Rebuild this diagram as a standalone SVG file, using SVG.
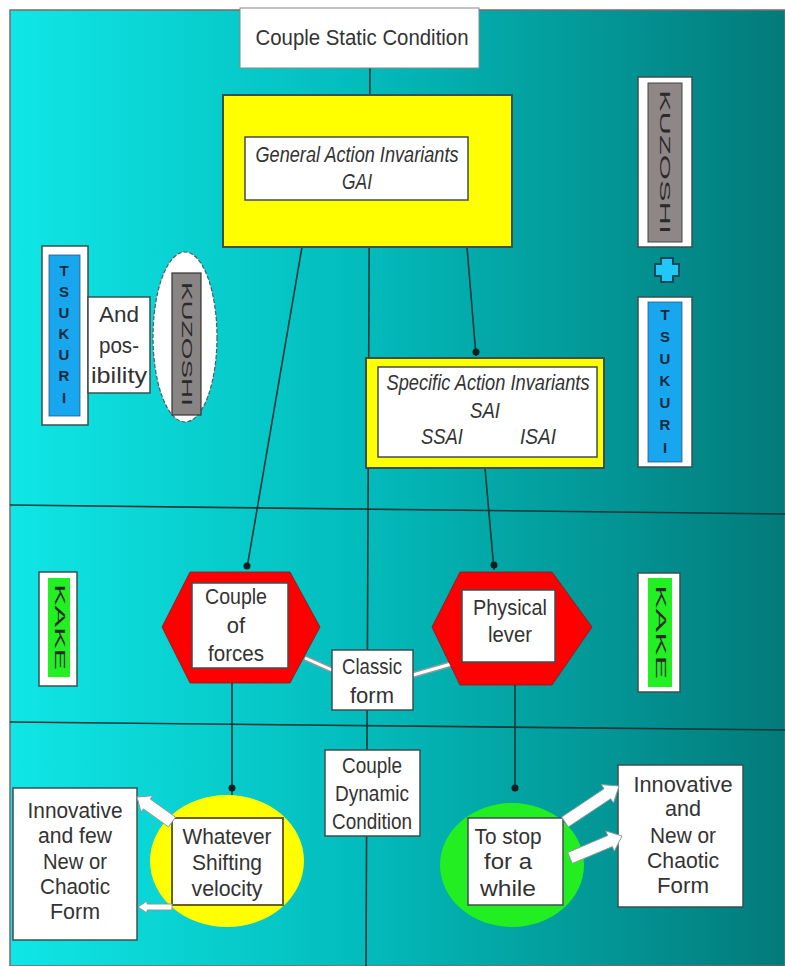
<svg xmlns="http://www.w3.org/2000/svg" width="785" height="966" viewBox="0 0 785 966">
<defs>
<linearGradient id="bg" x1="0" y1="0" x2="1" y2="0">
<stop offset="0" stop-color="#10e6e6"/>
<stop offset="0.45" stop-color="#03bcbc"/>
<stop offset="1" stop-color="#037a7a"/>
</linearGradient>
<style>
.t{font-family:"Liberation Sans",Arial,sans-serif;font-size:22px;fill:#333;text-anchor:middle}
.i{font-style:italic}
.box{fill:#fff;stroke:#3c4f4f;stroke-width:1.5}
.ln{stroke:#173838;stroke-width:1.6;fill:none}
.dot{fill:#0d1f1f}
.let{font-family:"Liberation Sans",Arial,sans-serif;font-size:15px;font-weight:bold;fill:#1a2a3a;text-anchor:middle}
.rot{font-family:"Liberation Sans",Arial,sans-serif;font-size:15px;fill:#2a2a2a}
.blk{fill:#fff;stroke:#8a9a9a;stroke-width:1}
</style>
</defs>
<rect x="0" y="0" width="785" height="966" fill="#fff"/>
<rect x="10" y="10" width="775" height="956" fill="url(#bg)" stroke="#7a6a6a" stroke-width="1.5"/>

<g id="connectors">
<line class="ln" x1="370" y1="68" x2="366" y2="966"/>
<line class="ln" x1="10" y1="505" x2="785" y2="514"/>
<line class="ln" x1="10" y1="722" x2="785" y2="730"/>
<line class="ln" x1="302" y1="247" x2="247" y2="568"/>
<circle class="dot" cx="247" cy="566" r="3.5"/>
<line class="ln" x1="467" y1="247" x2="476" y2="356"/>
<circle class="dot" cx="476" cy="352" r="3.5"/>
<line class="ln" x1="485" y1="468" x2="494" y2="570"/>
<circle class="dot" cx="494" cy="565" r="3.5"/>
<line class="ln" x1="232" y1="683" x2="232" y2="795"/>
<circle class="dot" cx="232" cy="788" r="3.5"/>
<line class="ln" x1="515" y1="685" x2="515" y2="790"/>
<circle class="dot" cx="515" cy="788" r="3.5"/>
<line x1="305" y1="658" x2="332" y2="670" stroke="#8a9a9a" stroke-width="6"/>
<line x1="305" y1="658" x2="332" y2="670" stroke="#fff" stroke-width="3"/>
<line x1="413" y1="675" x2="458" y2="662" stroke="#8a9a9a" stroke-width="6"/>
<line x1="413" y1="675" x2="458" y2="662" stroke="#fff" stroke-width="3"/>
</g>

<g id="title">
<rect x="240" y="8" width="239" height="60" fill="#fff" stroke="#888" stroke-width="1"/>
<text class="t" x="362" y="45" font-size="24" textLength="213" lengthAdjust="spacingAndGlyphs">Couple Static Condition</text>
</g>

<g id="gai">
<rect x="223" y="95" width="289" height="152" fill="#ffff00" stroke="#3c4f4f" stroke-width="2"/>
<rect class="box" x="245" y="137" width="223" height="63"/>
<text class="t i" x="357" y="162" textLength="203" lengthAdjust="spacingAndGlyphs">General Action Invariants</text>
<text class="t i" x="357" y="189" textLength="30" lengthAdjust="spacingAndGlyphs">GAI</text>
</g>

<g id="sai">
<rect x="366" y="358" width="238" height="110" fill="#ffff00" stroke="#3c4f4f" stroke-width="2"/>
<rect class="box" x="378" y="367" width="219" height="90"/>
<text class="t i" x="488" y="390" textLength="203" lengthAdjust="spacingAndGlyphs">Specific Action Invariants</text>
<text class="t i" x="485" y="418" textLength="30" lengthAdjust="spacingAndGlyphs">SAI</text>
<text class="t i" x="442" y="444" textLength="42" lengthAdjust="spacingAndGlyphs">SSAI</text>
<text class="t i" x="538" y="444" textLength="36" lengthAdjust="spacingAndGlyphs">ISAI</text>
</g>

<g id="tsukuri-left">
<rect class="box" x="42" y="246" width="46" height="179"/>
<rect x="49" y="255" width="31" height="161" fill="#18a6ef" stroke="#2a5a7a" stroke-width="0.8"/>
<text class="let" x="64" y="276">T</text>
<text class="let" x="64" y="297">S</text>
<text class="let" x="64" y="318">U</text>
<text class="let" x="64" y="339">K</text>
<text class="let" x="64" y="360">U</text>
<text class="let" x="64" y="381">R</text>
<text class="let" x="64" y="403">I</text>
</g>

<g id="and-possibility">
<rect class="box" x="88" y="297" width="62" height="96"/>
<text class="t" x="119" y="322" textLength="40" lengthAdjust="spacingAndGlyphs">And</text>
<text class="t" x="119" y="353" textLength="40" lengthAdjust="spacingAndGlyphs">pos-</text>
<text class="t" x="119" y="383" textLength="56" lengthAdjust="spacingAndGlyphs">ibility</text>
</g>

<g id="kuzoshi-left">
<ellipse cx="185" cy="337" rx="32" ry="85" fill="#fff" stroke="#556" stroke-width="1.2" stroke-dasharray="4 2"/>
<rect x="172" y="273" width="29" height="142" fill="#8a8585" stroke="#333" stroke-width="1.2"/>
<text class="rot" transform="translate(182 282) rotate(90)" textLength="124" lengthAdjust="spacingAndGlyphs">KUZOSHI</text>
</g>

<g id="kuzoshi-right">
<rect class="box" x="638" y="77" width="54" height="170"/>
<rect x="648" y="83" width="34" height="159" fill="#8f8787" stroke="#444" stroke-width="1"/>
<text class="rot" transform="translate(660 90) rotate(90)" textLength="144" lengthAdjust="spacingAndGlyphs">KUZOSHI</text>
</g>

<g id="plus">
<path d="M661 258 h12 v6 h6 v12 h-6 v6 h-12 v-6 h-6 v-12 h6 z" fill="#20c8f8" stroke="#0c4a5a" stroke-width="2" stroke-linejoin="round"/>
</g>

<g id="tsukuri-right">
<rect class="box" x="638" y="297" width="54" height="170"/>
<rect x="648" y="302" width="34" height="160" fill="#18a6ef" stroke="#2a5a7a" stroke-width="0.8"/>
<text class="let" x="665" y="320">T</text>
<text class="let" x="665" y="342">S</text>
<text class="let" x="665" y="364">U</text>
<text class="let" x="665" y="386">K</text>
<text class="let" x="665" y="408">U</text>
<text class="let" x="665" y="430">R</text>
<text class="let" x="665" y="453">I</text>
</g>

<g id="kake-left">
<rect class="box" x="39" y="572" width="38" height="114"/>
<rect x="48" y="578" width="22" height="99" fill="#22f022"/>
<text class="rot" transform="translate(55 584) rotate(90)" font-size="13" textLength="86" lengthAdjust="spacingAndGlyphs">KAKE</text>
</g>

<g id="kake-right">
<rect class="box" x="638" y="573" width="42" height="119"/>
<rect x="648" y="578" width="24" height="109" fill="#22f022"/>
<text class="rot" transform="translate(656 585) rotate(90)" font-size="13" textLength="94" lengthAdjust="spacingAndGlyphs">KAKE</text>
</g>

<g id="couple-of-forces">
<polygon points="162,627 190,572 290,572 320,627 290,683 190,683" fill="#ff0000" stroke="#7a2020" stroke-width="0.8"/>
<rect class="box" x="192" y="583" width="96" height="85"/>
<text class="t" x="236" y="604" textLength="62" lengthAdjust="spacingAndGlyphs">Couple</text>
<text class="t" x="236" y="633">of</text>
<text class="t" x="236" y="661" textLength="56" lengthAdjust="spacingAndGlyphs">forces</text>
</g>

<g id="physical-lever">
<polygon points="432,627 460,572 552,572 592,627 552,685 460,685" fill="#ff0000" stroke="#7a2020" stroke-width="0.8"/>
<rect class="box" x="462" y="590" width="93" height="72"/>
<text class="t" x="510" y="615" textLength="74" lengthAdjust="spacingAndGlyphs">Physical</text>
<text class="t" x="510" y="642" textLength="44" lengthAdjust="spacingAndGlyphs">lever</text>
</g>

<g id="classic-form">
<rect class="box" x="332" y="650" width="81" height="60"/>
<text class="t" x="372" y="674" textLength="60" lengthAdjust="spacingAndGlyphs">Classic</text>
<text class="t" x="372" y="703" textLength="44" lengthAdjust="spacingAndGlyphs">form</text>
</g>

<g id="couple-dynamic">
<rect class="box" x="325" y="750" width="95" height="86"/>
<text class="t" x="372" y="773" textLength="60" lengthAdjust="spacingAndGlyphs">Couple</text>
<text class="t" x="372" y="801" textLength="74" lengthAdjust="spacingAndGlyphs">Dynamic</text>
<text class="t" x="372" y="829" textLength="80" lengthAdjust="spacingAndGlyphs">Condition</text>
</g>

<g id="whatever">
<ellipse cx="227" cy="861" rx="77" ry="66" fill="#ffff00"/>
<rect x="172" y="818" width="111" height="87" fill="#fff" stroke="#6b6020" stroke-width="2"/>
<text class="t" x="227" y="844" textLength="89" lengthAdjust="spacingAndGlyphs">Whatever</text>
<text class="t" x="227" y="870" textLength="70" lengthAdjust="spacingAndGlyphs">Shifting</text>
<text class="t" x="227" y="896" textLength="71" lengthAdjust="spacingAndGlyphs">velocity</text>
</g>

<g id="innovative-left">
<rect class="box" x="13" y="788" width="124" height="152"/>
<text class="t" x="75" y="818" textLength="95" lengthAdjust="spacingAndGlyphs">Innovative</text>
<text class="t" x="75" y="843" textLength="74" lengthAdjust="spacingAndGlyphs">and few</text>
<text class="t" x="75" y="869" textLength="64" lengthAdjust="spacingAndGlyphs">New or</text>
<text class="t" x="75" y="894" textLength="70" lengthAdjust="spacingAndGlyphs">Chaotic</text>
<text class="t" x="75" y="919" textLength="50" lengthAdjust="spacingAndGlyphs">Form</text>
</g>

<g id="to-stop">
<ellipse cx="512" cy="865" rx="72" ry="62" fill="#22ee22"/>
<rect class="box" x="468" y="818" width="95" height="87"/>
<text class="t" x="508" y="844" textLength="67" lengthAdjust="spacingAndGlyphs">To stop</text>
<text class="t" x="508" y="869" textLength="48" lengthAdjust="spacingAndGlyphs">for a</text>
<text class="t" x="508" y="896" textLength="56" lengthAdjust="spacingAndGlyphs">while</text>
</g>

<g id="innovative-right">
<rect class="box" x="618" y="765" width="125" height="142"/>
<text class="t" x="683" y="792" textLength="99" lengthAdjust="spacingAndGlyphs">Innovative</text>
<text class="t" x="683" y="816" textLength="36" lengthAdjust="spacingAndGlyphs">and</text>
<text class="t" x="683" y="843" textLength="66" lengthAdjust="spacingAndGlyphs">New or</text>
<text class="t" x="683" y="868" textLength="72" lengthAdjust="spacingAndGlyphs">Chaotic</text>
<text class="t" x="683" y="893" textLength="52" lengthAdjust="spacingAndGlyphs">Form</text>
</g>

<g id="block-arrows">
<polygon class="blk" points="568.3,827 610.7,798.8 613.5,802.9 619,786 601.3,784.6 604,788.8 561.7,817"/>
<polygon class="blk" points="572.3,863.5 612.4,846.6 614.3,851.2 622,836 605.7,830.9 607.7,835.5 567.7,852.5"/>
<polygon class="blk" points="175.5,817.1 150.3,799.1 152.6,795.8 137,797 141,812.1 143.3,808.9 168.5,826.9"/>
<polygon class="blk" points="172,904 147,904 147,901 138,907 147,913 147,910 172,910"/>
</g>
</svg>
